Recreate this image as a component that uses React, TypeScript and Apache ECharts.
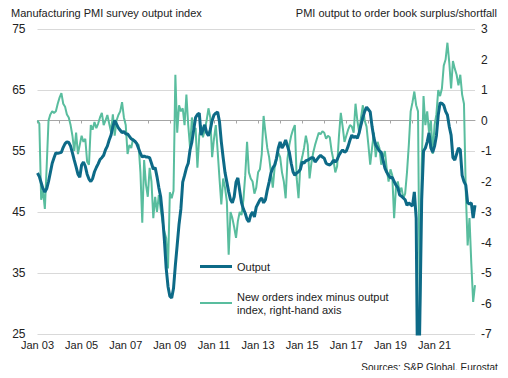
import React, { useEffect, useRef } from "react";
import * as echarts from "echarts";

const startYear = 2003;
const monthCount = 239; // Jan 2003 – Nov 2022

// Manufacturing PMI survey output index (left axis)
const output: number[] = [
  51.4, 50.8, 49.8, 48.8, 48.3, 48.8, 50.0, 51.5, 53.0, 53.9, 54.7, 54.6,
  54.7, 54.8, 55.6, 56.2, 56.5, 56.4, 55.8, 54.7, 53.5, 52.4, 51.2, 50.7,
  52.7, 53.2, 52.5, 51.2, 50.4, 50.0, 50.5, 51.6, 52.3, 52.9, 53.6, 53.9,
  54.3, 55.2, 55.8, 56.8, 57.6, 59.0, 60.0, 59.4, 58.8, 58.4, 58.0, 58.2,
  57.8, 57.8, 57.4, 57.0, 56.8, 56.6, 56.2, 55.4, 54.6, 54.0, 54.2, 54.0,
  54.0, 53.9, 53.0, 52.0, 52.3, 50.8, 49.0, 47.5, 44.5, 40.5, 35.8, 32.8,
  31.2, 30.9, 32.5, 36.3, 39.6, 43.0, 45.5, 49.9, 51.0, 52.2, 53.0, 55.2,
  56.5, 58.5, 60.5, 61.0, 61.2, 57.6, 58.5, 59.3, 58.0, 57.5, 58.5, 60.0,
  60.9, 61.2, 61.4, 59.8, 56.5, 53.9, 51.5, 49.9, 48.3, 47.0, 46.5, 47.5,
  49.9, 50.6, 48.5, 46.5, 45.5, 44.8, 43.8, 43.4, 44.5, 45.0, 44.2, 45.8,
  46.4, 47.0, 47.3, 46.5, 47.0, 48.6, 49.9, 51.4, 52.2, 52.7, 53.8, 55.5,
  56.5, 55.5, 56.0, 56.8, 55.8, 54.8, 53.0, 51.6, 51.0, 51.4, 51.6, 52.0,
  53.2, 53.0, 53.4, 53.5, 53.7, 53.9, 53.9, 53.2, 53.6, 54.0, 54.3, 54.0,
  53.8, 53.0, 52.8, 52.7, 53.0, 53.5, 53.2, 53.6, 54.3, 54.8, 55.2, 54.8,
  55.0, 55.8, 56.8, 57.6, 57.2, 57.4, 57.1, 58.0, 59.3, 60.5, 61.5, 62.2,
  61.8, 61.4, 59.0, 57.1, 56.0, 55.5, 55.0, 54.8, 53.5, 52.2, 51.5, 51.0,
  50.6, 50.7, 50.0, 49.4, 49.0, 47.8, 47.6, 47.3, 47.0, 46.1, 46.5, 46.2,
  46.0, 48.3, 44.0, 9.4, 27.5, 47.0, 55.0, 55.5, 56.5, 58.0, 55.5, 54.8,
  55.8, 57.5, 60.9, 62.9, 62.8, 62.5, 61.5, 60.9, 59.0, 57.6, 53.9, 53.5,
  54.5, 55.5, 55.2, 51.0, 50.0, 49.4, 46.5, 46.3, 46.5, 44.0, 46.1,
];

// New orders index minus output index (right axis)
const ordersMinusOutput: number[] = [
  0.0, -0.1, -2.6, -2.3, -2.9, -1.5, 0.0, 0.2, 0.3, 0.25, 0.3, 0.55,
  0.75, 0.9, 0.55, 0.45, 0.2, 0.1, -0.15, -0.5, -1.0, -0.4, -1.1, -0.8,
  -0.5, -0.7, -0.6, -1.35, -1.45, -0.15, -0.3, -0.05, -0.25, -0.1, 0.1, 0.25,
  -0.15, 0.0, 0.18, -0.1, -0.38, 0.2, -0.5, 0.0, 0.18, 0.3, 0.6, 0.1,
  -0.15, -1.1, -0.8, -0.9, -0.6, -0.7, -0.75, -0.8, -1.7, -3.35, -1.3, -2.1,
  -2.5, -1.55, -2.0, -3.2, -2.5, -3.0, -2.45, -2.9, -3.3, -3.65, -3.85, -4.85,
  -2.35, -2.55, -2.3, 1.5, -0.4, 0.5, 0.3, 0.4, -0.15, 0.85, -0.15, -0.9,
  0.1, -0.3, -0.25, -1.55, -0.5, -0.15, -0.55, -0.3, 0.0, 0.4, 0.1, -1.2,
  -0.6, -0.15, -1.0, -1.9, -2.75, -1.9, -2.2, -2.65, -4.4, -3.0, -3.2, -3.5,
  -3.85, -3.3, -3.0, -3.1, -2.6, -1.8, -0.7, -1.7, -1.9, -2.0, -2.4, -2.2,
  -1.7, -1.6, -1.1, 0.15, -0.4, -0.9, -1.2, -1.7, -2.2, -1.55, -1.3, -1.05,
  -1.2, -1.7, -2.0, -2.55, -1.25, -0.8, -0.5, -0.3, -0.15, -1.9, -2.55, -1.45,
  -1.2, -0.9, -0.5, -0.8, -1.9, -1.4, -1.05, -0.8, -0.6, -0.4, -0.45, -0.35,
  -0.4, -0.6, -0.5, -0.55, -1.0, -1.3, -1.7, -1.5, -0.5, 0.25, -0.2, -0.7,
  -0.5, -0.3, -0.15, -0.2, -0.4, 0.55, 0.0, -0.4, 0.1, 0.5, 0.0, -0.2,
  -0.8, -1.45, -0.9, -0.4, -1.2, -0.7, -0.9, -1.45, -1.2, -1.0, -1.6, -2.0,
  -1.6, -1.8, -3.2, -2.2, -2.0, -2.35, -2.2, -2.55, -2.4, -1.7, -0.8, 0.3,
  0.6, 0.95, 0.5, 0.3, -6.6, -1.5, 0.8, -0.15, 0.3, -0.4, 0.0, -1.1,
  -0.15, 0.2, 1.0, 0.8, 1.05, 1.8, 2.0, 2.55, 1.9, 1.05, 1.95, 1.7,
  1.5, 1.15, 1.5, 0.85, 0.55, -2.35, -4.1, -3.2, -4.7, -5.95, -5.4,
];

const monthNames = ["Jan", "Feb", "Mar", "Apr", "May", "Jun", "Jul", "Aug", "Sep", "Oct", "Nov", "Dec"];
const categories: string[] = [];
for (let i = 0; i < monthCount; i++) {
  const y = startYear + Math.floor(i / 12);
  categories.push(monthNames[i % 12] + " " + String(y % 100).padStart(2, "0"));
}

const leftTitle = "Manufacturing PMI survey output index";
const rightTitle = "PMI output to order book surplus/shortfall";
const sourceText = "Sources: S&P Global, Eurostat";
const seriesNames = ["Output", "New orders index minus output index, right-hand axis"];

const FONT = "'Liberation Sans', Arial, sans-serif";
const DARK = "#0d6a87";
const LIGHT = "#59bd9e";
const TEXT = "#222";

export default function App() {
  const ref = useRef<HTMLDivElement>(null);
  useEffect(() => {
    if (!ref.current) return;
    const chart = echarts.init(ref.current, undefined, { renderer: "svg" });
    chart.setOption({
      animation: false,
      textStyle: { fontFamily: FONT },
      grid: { left: 37.5, right: 33, top: 29, bottom: 44, containLabel: false },
      title: [
        { text: leftTitle, left: 11, top: 7, padding: 0, textStyle: { fontSize: 11, fontWeight: "normal", color: TEXT, fontFamily: FONT } },
        { text: rightTitle, right: 11, top: 7, padding: 0, textStyle: { fontSize: 11, fontWeight: "normal", color: TEXT, fontFamily: FONT } },
        { text: sourceText, right: 10, top: 362, padding: 0, textStyle: { fontSize: 10, fontWeight: "normal", color: TEXT, fontFamily: FONT } },
      ],
      legend: [
        {
          orient: "vertical",
          left: 200,
          top: 261,
          padding: 0,
          icon: "rect",
          itemWidth: 32,
          itemHeight: 3,
          itemGap: 5,
          textStyle: { fontSize: 11, color: TEXT, fontFamily: FONT },
          data: [seriesNames[0]],
        },
        {
          orient: "vertical",
          left: 200,
          top: 283.5,
          padding: 0,
          icon: "rect",
          itemWidth: 32,
          itemHeight: 2,
          itemGap: 5,
          textStyle: { fontSize: 11, color: TEXT, fontFamily: FONT, lineHeight: 13, padding: [13, 0, 0, 0] },
          formatter: () => "New orders index minus output\nindex, right-hand axis",
          data: [seriesNames[1]],
        },
      ],
      xAxis: {
        type: "category",
        data: categories,
        boundaryGap: false,
        axisLine: { lineStyle: { color: "#a6a6a6", width: 1 } },
        axisTick: { show: true, interval: 11, length: 3, lineStyle: { color: "#a6a6a6" } },
        axisLabel: { interval: 23, fontSize: 11, color: TEXT, margin: 5, fontFamily: FONT },
        splitLine: { show: false },
      },
      yAxis: [
        {
          type: "value",
          min: 25,
          max: 75,
          interval: 10,
          axisLine: { show: false },
          axisTick: { show: false },
          axisLabel: { fontSize: 12, color: TEXT, margin: 12, fontFamily: FONT },
          splitLine: { show: true, lineStyle: { color: "#d9d9d9", width: 1 } },
        },
        {
          type: "value",
          min: -7,
          max: 3,
          interval: 1,
          position: "right",
          axisLine: { show: false },
          axisTick: { show: false },
          axisLabel: { fontSize: 12, color: TEXT, margin: 6, fontFamily: FONT },
          splitLine: { show: false },
        },
      ],
      series: [
        {
          name: seriesNames[1],
          type: "line",
          yAxisIndex: 1,
          data: ordersMinusOutput,
          symbol: "none",
          lineStyle: { color: LIGHT, width: 2 },
          itemStyle: { color: LIGHT },
          z: 2,
        },
        {
          name: seriesNames[0],
          type: "line",
          yAxisIndex: 0,
          data: output,
          symbol: "none",
          clip: true,
          lineStyle: { color: DARK, width: 3 },
          itemStyle: { color: DARK },
          z: 3,
        },
      ],
    });
    return () => chart.dispose();
  }, []);
  return <div ref={ref} style={{ width: 508, height: 378, margin: -8 }} />;
}
